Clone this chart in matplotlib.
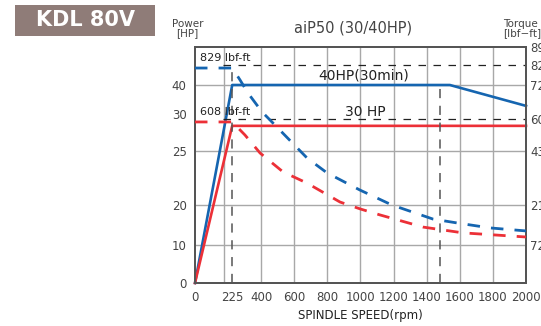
import numpy as np
import matplotlib
matplotlib.use("Agg")
import matplotlib.pyplot as plt
from matplotlib.patches import Rectangle

# --- data ---
x_ticks = [0, 225, 400, 600, 800, 1000, 1200, 1400, 1600, 1800, 2000]
grid_rpm = [175, 400, 600, 800, 1000, 1200, 1400, 1600, 1800]

hp_ticks = [0, 10, 20, 25, 30, 40]
hp_grid = [10, 20, 25, 40]
tq_ticks = [72, 217, 434, 608, 723, 829, 895]

# power curves [HP]
p40_rpm = [0, 225, 1540, 2000]
p40_hp = [0, 40, 40, 32.8]
p30_rpm = [0, 225, 2000]
p30_hp = [0, 28.4, 28.4]

# torque curves [lbf-ft]
t40_rpm = [0, 225, 272, 320, 405, 453, 677, 798, 997, 1190, 1438, 1583, 1782, 2000]
t40_tq = [813, 813, 750, 696, 632, 603, 406, 346, 277, 217, 166, 152, 134, 123]
t30_rpm = [0, 225, 302, 393, 532, 677, 876, 997, 1118, 1378, 1619, 2000]
t30_tq = [592, 592, 521, 426, 350, 305, 229, 203, 181, 137, 116, 101]

# uneven vertical scale of the original sheet (value -> height)
hp_nodes = [-100, 0, 10, 20, 25, 30, 40, 50, 1000]
tq_nodes = [-1000, 0, 72, 217, 434, 608, 723, 829, 895, 5000]
pos_nodes_hp = [-380, 0, 38, 78, 132, 169, 198, 236, 3800]
pos_nodes_tq = [-380, 0, 38, 78, 132, 164, 198, 218, 236, 3800]


def fwd_hp(v):
    return np.interp(v, hp_nodes, pos_nodes_hp)


def inv_hp(p):
    return np.interp(p, pos_nodes_hp, hp_nodes)


def fwd_tq(v):
    return np.interp(v, tq_nodes, pos_nodes_tq)


def inv_tq(p):
    return np.interp(p, pos_nodes_tq, tq_nodes)


blue = '#1565b0'
red = '#ec3037'
txt = '#444444'

fig = plt.figure(figsize=(5.41, 3.26), dpi=100)
ax = fig.add_axes([0.3604, 0.1319, 0.6119, 0.7239])
ax.set_yscale('function', functions=(fwd_hp, inv_hp))
ax.set_xlim(0, 2000)
ax.set_ylim(0, 50)

ax2 = ax.twinx()
ax2.set_yscale('function', functions=(fwd_tq, inv_tq))
ax2.set_ylim(0, 895)

# grid
for g in grid_rpm:
    ax.axvline(g, color='#a8a8a8', lw=1.0, zorder=1)
for g in hp_grid:
    ax.axhline(g, color='#a8a8a8', lw=1.0, zorder=1)

# reference dashed lines
ax2.plot([170, 2000], [829, 829], color='#222222', lw=0.9, ls=(0, (6, 6)), zorder=2)
ax2.plot([170, 2000], [608, 608], color='#222222', lw=0.9, ls=(0, (6, 6)), zorder=2)
ax2.plot([225, 225], [0, 829], color='#555555', lw=1.1, ls=(0, (6, 5)), zorder=2)
ax2.plot([1480, 1480], [0, 723], color='#555555', lw=1.1, ls=(0, (6, 5)), zorder=2)

# curves
ax.plot(p40_rpm, p40_hp, color=blue, lw=1.9, zorder=4, clip_on=False)
ax.plot(p30_rpm, p30_hp, color=red, lw=1.9, zorder=4, clip_on=False)
ax2.plot(t40_rpm, t40_tq, color=blue, lw=2.0, ls=(0, (4.5, 4)), zorder=4)
ax2.plot(t30_rpm, t30_tq, color=red, lw=2.0, ls=(0, (4.5, 4)), zorder=4)

# ticks
ax.set_xticks(x_ticks)
ax.set_xticklabels([str(v) for v in x_ticks])
ax.set_yticks(hp_ticks)
ax.set_yticklabels([str(v) for v in hp_ticks])
ax2.set_yticks(tq_ticks)
ax2.set_yticklabels([str(v) for v in tq_ticks])
ax.tick_params(axis='both', length=0, labelsize=8.5, labelcolor=txt, pad=6)
ax2.tick_params(axis='y', length=0, labelsize=8.5, labelcolor=txt, pad=3)
ax.minorticks_off()
ax2.minorticks_off()

for a in (ax, ax2):
    for s in a.spines.values():
        s.set_color('#555555')
        s.set_linewidth(1.4)

ax.set_xlabel('SPINDLE SPEED(rpm)', fontsize=8.5, color='#222222', labelpad=3)

# annotations
ax2.text(30, 829 + 6, '829 lbf-ft', fontsize=8, color='#222222', va='bottom', ha='left')
ax2.text(30, 608 + 6, '608 lbf-ft', fontsize=8, color='#222222', va='bottom', ha='left')
ax.text(1020, 42.6, '40HP(30min)', fontsize=10, color='#222222', ha='center', va='center')
ax.text(1030, 30.6, '30 HP', fontsize=10, color='#222222', ha='center', va='center')

fig.text(0.6525, 0.915, 'aiP50 (30/40HP)', fontsize=10.5, color=txt, ha='center', va='center')
fig.text(0.347, 0.912, 'Power\n[HP]', fontsize=7.5, color=txt, ha='center', va='center',
         linespacing=0.9)
fig.text(0.930, 0.912, 'Torque\n[lbf\u2212ft]', fontsize=7.5, color=txt, ha='left', va='center',
         linespacing=0.9)

# badge
fig.patches.append(Rectangle((15 / 541, 1 - 36 / 326), 140 / 541, 31 / 326,
                             transform=fig.transFigure, facecolor='#8f7c78',
                             edgecolor='none'))
fig.text(85 / 541, 1 - 20 / 326, 'KDL 80V', fontsize=15, fontweight='bold',
         color='white', ha='center', va='center')

fig.savefig('out.png', dpi=100)
